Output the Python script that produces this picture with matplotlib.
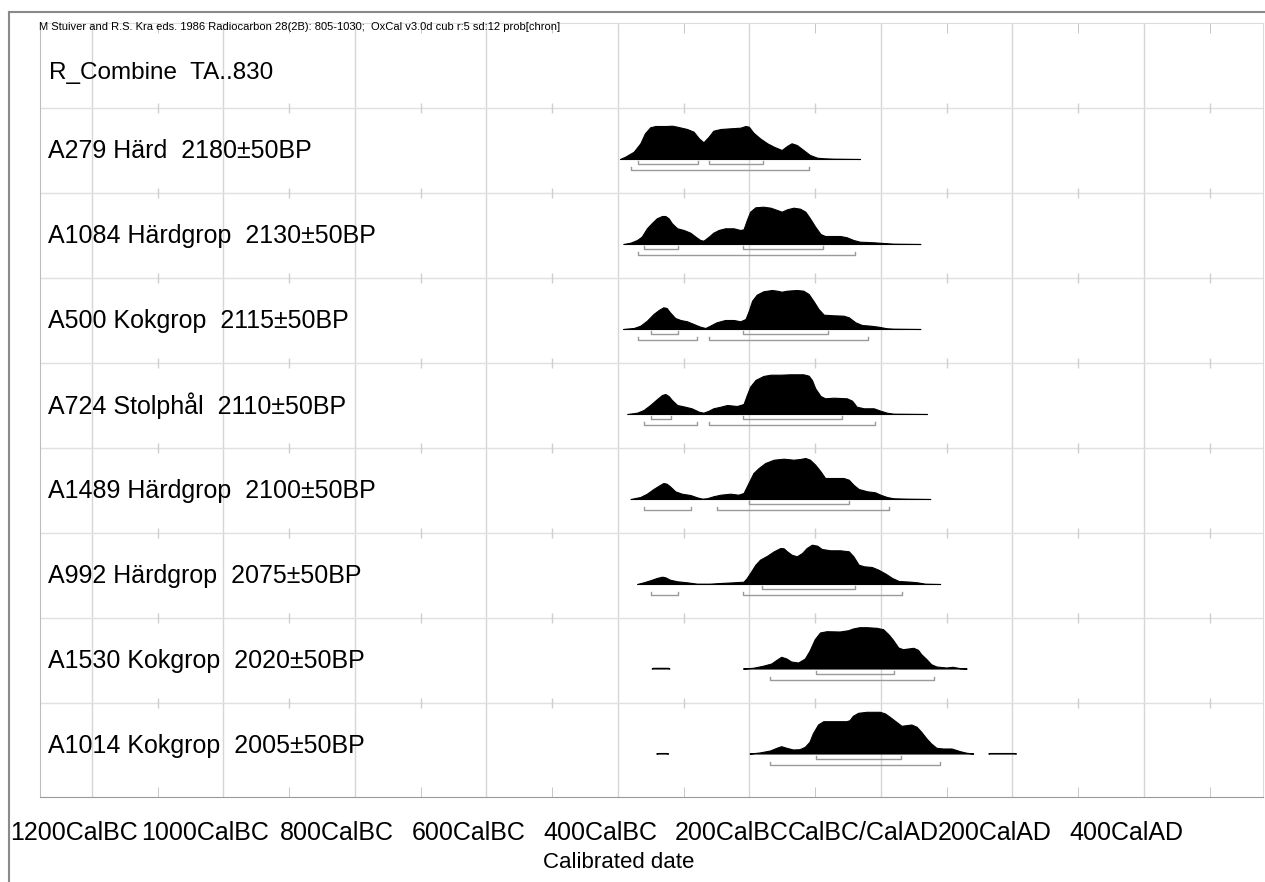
import numpy as np
import matplotlib.pyplot as plt
import matplotlib.transforms as mtransforms
from matplotlib.lines import Line2D

# Arial-like metrics
plt.rcParams["font.family"] = ["Liberation Sans", "DejaVu Sans"]

header = "M Stuiver and R.S. Kra eds. 1986 Radiocarbon 28(2B): 805-1030;  OxCal v3.0d cub r:5 sd:12 prob[chron]"
group_label = "R_Combine  TA..830"

sample_labels = ["A279 Härd  2180±50BP",
                 "A1084 Härdgrop  2130±50BP",
                 "A500 Kokgrop  2115±50BP",
                 "A724 Stolphål  2110±50BP",
                 "A1489 Härdgrop  2100±50BP",
                 "A992 Härdgrop  2075±50BP",
                 "A1530 Kokgrop  2020±50BP",
                 "A1014 Kokgrop  2005±50BP"]

tick_years = [-1200, -1000, -800, -600, -400, -200, 0, 200, 400]
tick_labels = ["1200CalBC", "1000CalBC", "800CalBC", "600CalBC", "400CalBC",
               "200CalBC", "CalBC/CalAD", "200CalAD", "400CalAD"]
minor_years = [-1100, -900, -700, -500, -300, -100, 100, 300, 500]

# probability curves (year AD, relative probability)
a279_yr = [-397, -389, -376, -366, -359, -351, -343, -326, -318, -310, -295, -285, -277, -270, -262, -255,
           -244, -229, -214, -206, -201, -194, -184, -173, -163, -151, -143, -136, -128, -118, -108, -97,
           -87, -72, -32]
a279_p = [0, 2.3, 7.3, 15.7, 25.7, 31.7, 33, 33, 33.3, 32.3, 30, 27.3, 20.7, 16.7, 22.3, 28.3,
          30, 30.7, 31.3, 33, 32.3, 26.3, 20.7, 15.7, 12.3, 9, 13, 15.7, 14, 9, 4, 1.3,
          0.7, 0.3, 0]

a1084_yr = [-392, -381, -371, -364, -356, -348, -341, -333, -328, -323, -318, -310, -300, -290, -282, -275,
            -270, -262, -255, -247, -237, -224, -214, -209, -204, -199, -191, -179, -168, -158, -151, -143,
            -133, -123, -115, -108, -100, -92, -85, -62, -52, -42, -32, -11, 4, 19, 60]
a1084_p = [0, 1.3, 4, 7.3, 15.7, 21.3, 25.7, 28, 28, 25.7, 20.7, 15.7, 14, 11.3, 7.3, 4,
           3.3, 7.3, 11.3, 14, 15.7, 15.7, 14, 14.7, 24, 32.3, 36.7, 37.3, 36.3, 34, 32.3, 34.7,
           36.3, 35.3, 32.3, 25.7, 17.3, 10, 8, 8, 6.7, 4, 2.3, 1.7, 1, 0.3, 0]

a500_yr = [-392, -376, -366, -356, -346, -338, -331, -326, -321, -313, -305, -295, -285, -275, -267, -260,
           -250, -237, -224, -214, -206, -201, -196, -189, -179, -166, -158, -151, -143, -128, -118, -110,
           -103, -95, -87, -72, -57, -49, -39, -29, -16, -4, 9, 19, 60]
a500_p = [0, 1, 3.3, 8.3, 15, 19, 21.7, 21, 16.7, 11, 9, 7.7, 5, 2.3, 1, 3.3,
          6.7, 9, 9, 7.7, 10, 18.3, 28.3, 34.3, 37.7, 39, 38.3, 37.3, 38.3, 39, 38.3, 35,
          28.3, 20, 14.3, 13.7, 13.3, 11.7, 6.7, 4, 3.3, 2.3, 0.7, 0.3, 0]

a724_yr = [-386, -371, -361, -351, -341, -333, -328, -323, -318, -310, -298, -288, -277, -270, -262, -255,
           -244, -234, -219, -209, -204, -199, -191, -179, -168, -153, -138, -118, -110, -105, -100, -92,
           -85, -72, -52, -44, -37, -26, -11, -1, 9, 19, 70]
a724_p = [0, 1.3, 4, 9, 14.7, 19, 20, 18, 14, 9, 7.3, 5.7, 2.3, 1.3, 3.3, 5.7,
          7.3, 9, 8, 10, 19, 27.3, 34, 38, 39.3, 39.3, 39.7, 39.7, 38.3, 34, 25.7, 18,
          15.7, 16.3, 15.7, 13.3, 7.3, 5.7, 5.7, 3.3, 1.3, 0.3, 0]

a1489_yr = [-381, -366, -356, -346, -338, -331, -326, -321, -313, -303, -290, -280, -272, -265, -255, -244,
            -229, -217, -209, -204, -199, -194, -186, -176, -163, -148, -133, -123, -115, -108, -100, -92,
            -85, -72, -57, -49, -42, -34, -21, -9, -1, 9, 19, 39, 75]
a1489_p = [0, 2, 5.3, 10, 13.3, 16, 15.3, 12.7, 7.7, 5.3, 4, 1.7, 0.3, 0.7, 2.7, 4.3,
           5.3, 4.3, 6, 12.7, 19.3, 26, 31, 36, 39.3, 40.3, 39.3, 40, 41, 39.3, 34.3, 27.7,
           21, 21, 21, 19.3, 14.3, 10, 7.7, 6.7, 4.3, 2, 0.7, 0.3, 0]

a992_yr = [-371, -361, -351, -341, -333, -328, -321, -310, -295, -280, -260, -244, -224, -209, -204, -199,
           -191, -184, -173, -163, -153, -148, -143, -136, -128, -120, -113, -105, -97, -90, -77, -62,
           -49, -42, -34, -26, -14, -4, 7, 17, 27, 45, 55, 67, 90]
a992_p = [0, 1.7, 3.7, 6, 7.3, 6.7, 4.3, 2.7, 1.7, 0.3, 0.3, 1, 1.7, 2.3, 6, 11,
          19.3, 24.3, 28.3, 32.7, 36, 35.7, 32.7, 29.3, 27.7, 31, 36, 39.3, 38.3, 35, 33.7, 33.7,
          32.7, 27.7, 19.3, 17.7, 17, 14.3, 10.3, 6, 3, 2.3, 1.7, 0.3, 0]

a1530_yr = [-348, -346, -323, -321, -300, -209, -194, -179, -166, -158, -151, -143, -136, -125, -115, -108,
            -100, -92, -82, -62, -49, -42, -32, -21, -6, 4, 12, 19, 27, 34, 42, 50,
            57, 62, 70, 77, 85, 100, 110, 121, 131]
a1530_p = [0, 0.7, 0.7, 0, 0, 0, 0.7, 2.7, 5, 8.7, 11.7, 10, 7, 6, 10, 17.7,
           29.3, 36, 37.3, 37, 38.3, 40, 41.3, 41.3, 40.7, 39.3, 34.3, 28.7, 21, 19.3, 20, 20.7,
           18.7, 14.3, 9.3, 4.3, 2, 1, 1.7, 0.3, 0]

a1014_yr = [-341, -338, -326, -323, -300, -199, -184, -168, -158, -151, -143, -133, -123, -115, -108, -103,
            -95, -87, -72, -52, -47, -42, -34, -21, -1, 7, 14, 24, 32, 39, 47, 55,
            62, 70, 77, 85, 95, 108, 121, 131, 141, 152, 164, 166, 204, 206]
a1014_p = [0, 0.5, 0.5, 0, 0, 0, 1, 3, 5.7, 7.3, 5.7, 4, 4.3, 6.7, 11.7, 20,
           29, 32.3, 32.3, 32.3, 33.3, 37.7, 40.7, 41.7, 41.7, 40, 36.7, 31.7, 27.7, 28.3, 29, 26.7,
           21.7, 15, 10, 5.7, 5, 5, 2.3, 0.7, 0, 0, 0, 0.5, 0.5, 0]

# 68.2% and 95.4% ranges
range68 = [[(-370, -279), (-261, -180)],
           [(-360, -309), (-210, -88)],
           [(-350, -309), (-210, -80)],
           [(-350, -320), (-210, -59)],
           [(-200, -49)],
           [(-181, -39)],
           [(-99, 20)],
           [(-99, 30)]]
range95 = [[(-380, -110)],
           [(-370, -39)],
           [(-370, -280), (-261, -19)],
           [(-360, -280), (-261, -9)],
           [(-360, -289), (-249, 12)],
           [(-350, -309), (-210, 32)],
           [(-169, 80)],
           [(-169, 90)]]

curves = [(a279_yr, a279_p), (a1084_yr, a1084_p), (a500_yr, a500_p), (a724_yr, a724_p),
          (a1489_yr, a1489_p), (a992_yr, a992_p), (a1530_yr, a1530_p), (a1014_yr, a1014_p)]

W, H = 1265, 882
fig = plt.figure(figsize=(W / 100, H / 100), dpi=100)
ax = fig.add_axes([40 / W, 1 - 797 / H, 1223 / W, 774 / H])

row_px = 85.0
n_rows = 774 / row_px
ax.set_xlim(-1279, 581)
ax.set_ylim(n_rows, 0)

# grid
for yr in tick_years:
    ax.axvline(yr, color="#d6d6d6", lw=1, zorder=0)
for r in range(1, 9):
    ax.axhline(r, color="#e0e0e0", lw=1, zorder=0)
    ax.plot(minor_years, [r] * len(minor_years), ls="none", marker="|", ms=7,
            mew=1, color="#cfcfcf", zorder=0)

# distributions
for i, (yrs, p) in enumerate(curves):
    yrs = np.array(yrs, dtype=float)
    p = np.array(p, dtype=float)
    nz = p > 0
    mask = nz.copy()
    mask[1:] |= nz[:-1]
    mask[:-1] |= nz[1:]
    base = i + 1 + 0.6
    ax.fill_between(yrs, base, base - p / row_px, where=mask, facecolor="black",
                    edgecolor="black", lw=0.8, zorder=3)
    tk = 3 / row_px
    for lo, hi in range68[i]:
        y = base + 5 / row_px
        ax.plot([lo, lo, hi, hi], [y - tk, y, y, y - tk], color="#9a9a9a", lw=1, zorder=2)
    for lo, hi in range95[i]:
        y = base + 10.5 / row_px
        ax.plot([lo, lo, hi, hi], [y - tk, y, y, y - tk], color="#9a9a9a", lw=1, zorder=2)
    ax.text(8 / 1223, i + 1.5, sample_labels[i], transform=ax.get_yaxis_transform(),
            ha="left", va="center", fontsize=18, color="black")

ax.text(9 / 1223, 50 / row_px, group_label, transform=ax.get_yaxis_transform(),
        ha="left", va="center", fontsize=17.5, color="black")
fig.text(39 / W, 1 - 27 / H, header, ha="left", va="center", fontsize=8, color="black")

# axes
ax.set_xticks(tick_years)
ax.set_xticklabels(tick_labels, fontsize=18, color="black")
ax.set_xticks(minor_years, minor=True)
ax.tick_params(axis="x", which="major", length=0, pad=17)
ax.tick_params(axis="x", which="minor", direction="in", length=7, color="#bdbdbd", top=True)
ax.set_yticks([])
shift = mtransforms.ScaledTranslation(-18 / 100, 0, fig.dpi_scale_trans)
for lab in ax.get_xticklabels():
    lab.set_transform(lab.get_transform() + shift)

ax.set_xlabel("Calibrated date", fontsize=16, color="black", va="top")
ax.xaxis.set_label_coords((619 - 40) / 1223, -(852 - 797) / 774)

ax.spines["left"].set_color("#bdbdbd")
ax.spines["right"].set_color("#dcdcdc")
ax.spines["top"].set_color("#dcdcdc")
ax.spines["bottom"].set_color("#9a9a9a")

# outer frame
fig.add_artist(Line2D([9 / W, 9 / W], [0, 1 - 12 / H], transform=fig.transFigure,
                      color="#8a8a8a", lw=1.5))
fig.add_artist(Line2D([9 / W, 1], [1 - 12 / H, 1 - 12 / H], transform=fig.transFigure,
                      color="#8a8a8a", lw=1.5))

fig.savefig("out.png", dpi=100)
